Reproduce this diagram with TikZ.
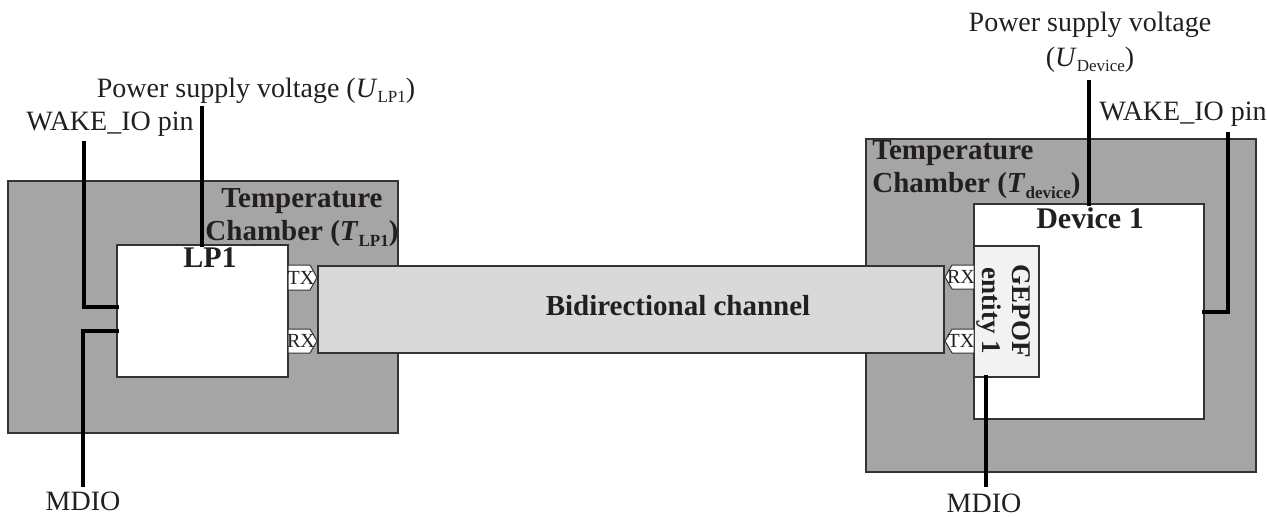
\documentclass[tikz,border=0pt]{standalone}
\usepackage{fontspec}
\setmainfont{Liberation Serif}
\definecolor{chambergray}{HTML}{A5A5A5}
\definecolor{channelgray}{HTML}{D9D9D9}
\definecolor{entitygray}{HTML}{F2F2F2}
\definecolor{ink}{HTML}{231F20}
\newcommand{\lowsub}[2]{\raisebox{-0.45ex}{\fontsize{#1}{#1}\selectfont #2}}
\begin{document}
\begin{tikzpicture}[x=0.5pt,y=-0.5pt,
  box/.style={draw=black!80, line width=0.6pt, inner sep=0pt, outer sep=0pt, anchor=north west},
  chamber/.style={box, fill=chambergray},
  whitebox/.style={box, fill=white},
  chanbox/.style={box, fill=channelgray},
  entbox/.style={box, fill=entitygray},
  wire/.style={line width=1.6pt, black, line cap=rect},
  tag/.style={draw=black!80, fill=white, line width=0.5pt},
  tagtext/.style={font=\fontsize{10}{11}\selectfont, text=ink, inner sep=0pt},
  lbl/.style={font=\fontsize{14}{17.5}\selectfont, text=ink, inner sep=0pt, anchor=base, align=center},
  blbl/.style={font=\fontsize{15}{16.5}\selectfont\bfseries, text=ink, inner sep=0pt, align=center},
  chlbl/.style={blbl, font=\fontsize{14.5}{16.5}\selectfont\bfseries}
]
\path[use as bounding box] (0,0) rectangle (1267,516);

% chambers
\node[chamber, minimum width=195pt, minimum height=126pt] (chL) at (8,181) {};
\node[chamber, minimum width=195pt, minimum height=166.5pt] (chR) at (866,139) {};

% boxes
\node[whitebox, minimum width=85.5pt, minimum height=66pt] (lp1) at (117,245) {};
\node[chanbox, minimum width=313pt, minimum height=43.5pt] (chan) at (318,266) {};
\node[whitebox, minimum width=115pt, minimum height=107.5pt] (dev) at (974,204) {};
\node[entbox, minimum width=32.5pt, minimum height=65.5pt] (ent) at (974,246) {};

% chamber labels (base = baseline of last line)
\node[chlbl, anchor=base] (tcL) at (302,240) {Temperature\\Chamber (\textbf{\textit{T}}\lowsub{8.5}{LP1})};
\node[chlbl, anchor=base west, align=left] (tcR) at (872,192) {Temperature\\Chamber (\textbf{\textit{T}}\lowsub{8.5}{device})};

% box labels
\node[blbl, anchor=base] (lp1lbl) at (210,267) {LP1};
\node[blbl, anchor=base, font=\fontsize{14.5}{16}\selectfont\bfseries] (chanlbl) at (678,315) {Bidirectional channel};
\node[blbl, anchor=base] (devlbl) at (1090,228) {Device 1};
\node[blbl, rotate=-90, font=\fontsize{13.5}{15}\selectfont\bfseries] (entlbl) at (1004,311) {GEPOF\\entity 1};

% TX / RX tags, LP1 side
\draw[tag] (288,265) -- (310,265) -- (317,277.5) -- (310,290) -- (288,290) -- cycle;
\node[tagtext] (txL) at (301,278) {TX};
\draw[tag] (288,329) -- (310,329) -- (317,341) -- (310,353) -- (288,353) -- cycle;
\node[tagtext] (rxL) at (301,341) {RX};

% RX / TX tags, device side
\draw[tag] (974,265) -- (952,265) -- (945,277) -- (952,289) -- (974,289) -- cycle;
\node[tagtext] (rxR) at (961,277) {RX};
\draw[tag] (974,329) -- (952,329) -- (945,341) -- (952,353) -- (974,353) -- cycle;
\node[tagtext] (txR) at (961,341) {TX};

% labels outside
\node[lbl] (pwrL) at (256,97) {Power supply voltage (\textit{U}\lowsub{8.5}{LP1})};
\node[lbl] (wakeL) at (110,130) {WAKE\_IO pin};
\node[lbl] (mdioL) at (83,510) {MDIO};
\node[lbl] (pwrR) at (1090,66) {Power supply voltage\\(\textit{U}\lowsub{8.5}{Device})};
\node[lbl] (wakeR) at (1183,120) {WAKE\_IO pin};
\node[lbl] (mdioR) at (984,512) {MDIO};

% wire end coordinates
\coordinate (pL) at (202,108);
\coordinate (wL) at (84,143);
\coordinate (mL) at (83,485);
\coordinate (pR) at (1089,82);
\coordinate (wR) at (1228,134);
\coordinate (mR) at (986,485);

% wires
\draw[wire] (pL) -- (pL |- lp1.north);
\draw[wire] (wL) -- (84,307) -- (lp1.west |- 0,307);
\draw[wire] (lp1.west |- 0,331) -- (83,331) -- (mL);
\draw[wire] (pR) -- (pR |- dev.north);
\draw[wire] (wR) -- (1228,312) -- (dev.east |- 0,312);
\draw[wire] (mR |- ent.south) -- (mR);
\end{tikzpicture}
\end{document}
